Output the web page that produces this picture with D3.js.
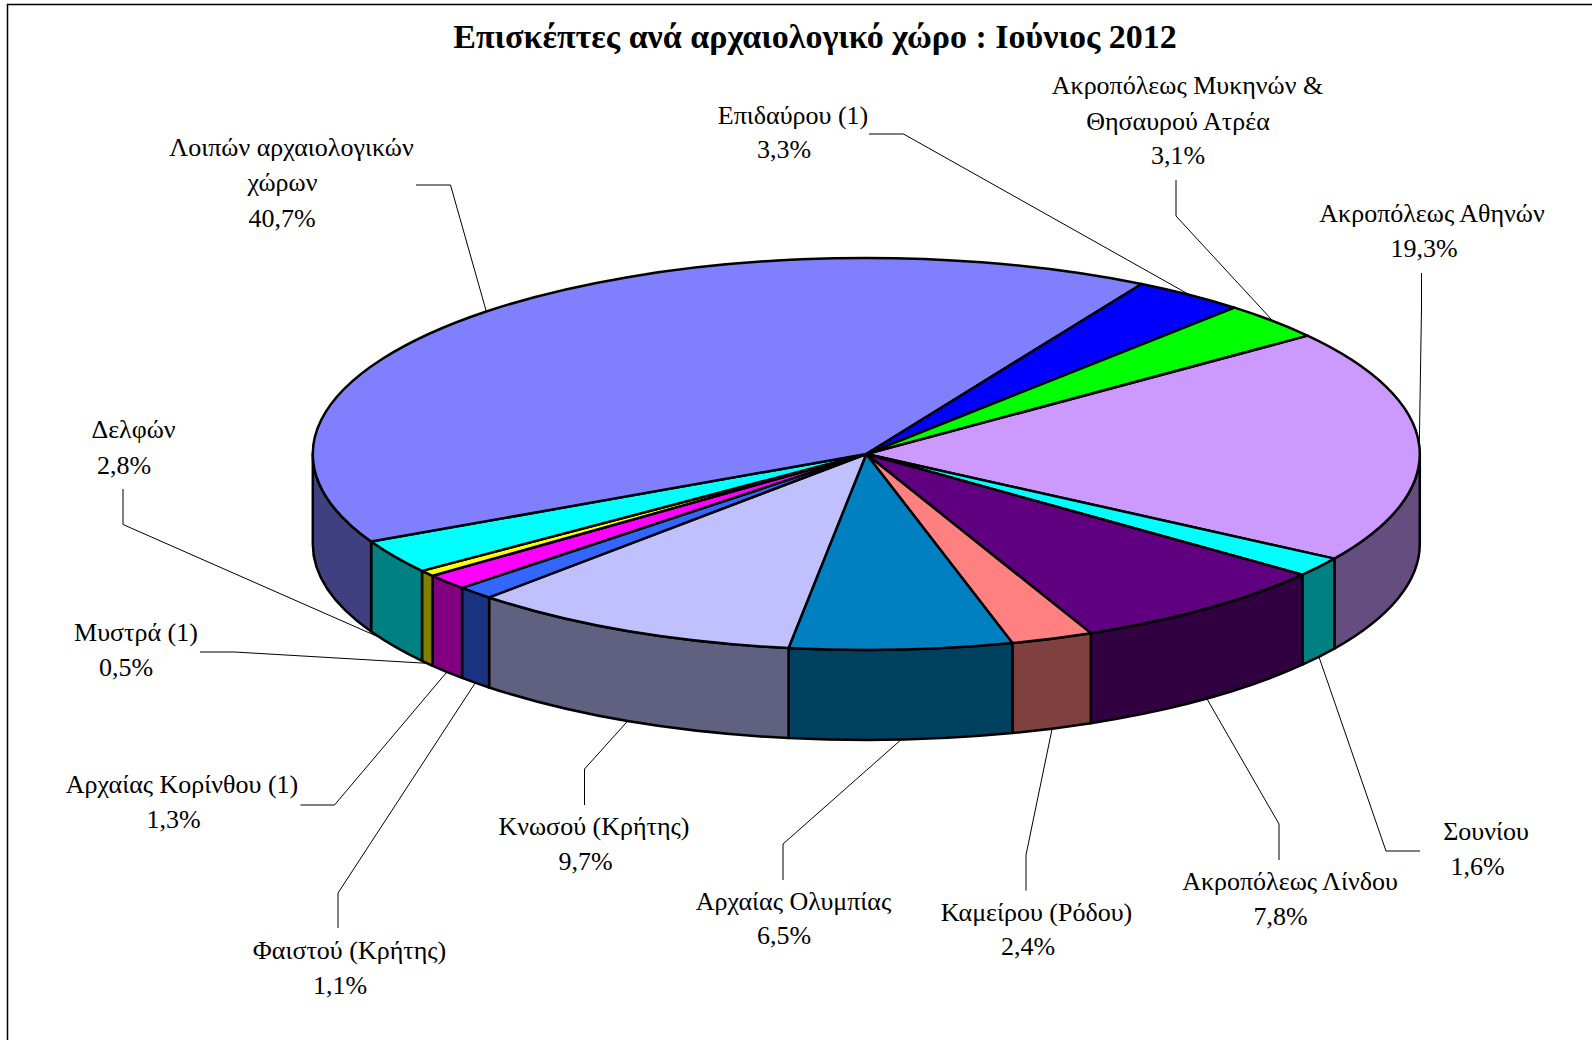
<!DOCTYPE html>
<html lang="el">
<head>
<meta charset="utf-8">
<title>Επισκέπτες ανά αρχαιολογικό χώρο</title>
<script src="https://cdn.jsdelivr.net/npm/d3@7"></script>
<style>
  html, body { margin: 0; padding: 0; background: #fff; overflow: hidden; }
  text { font-family: "Liberation Serif", "Times New Roman", serif; fill: #000; }
</style>
</head>
<body>
<div id="chart"></div>
<script>
// Data, clockwise from the start angle of the pie.
const siteNames = [
  ["Ακροπόλεως Αθηνών"],
  ["Σουνίου"],
  ["Ακροπόλεως Λίνδου"],
  ["Καμείρου (Ρόδου)"],
  ["Αρχαίας Ολυμπίας"],
  ["Κνωσού (Κρήτης)"],
  ["Φαιστού (Κρήτης)"],
  ["Αρχαίας Κορίνθου (1)"],
  ["Μυστρά (1)"],
  ["Δελφών"],
  ["Λοιπών αρχαιολογικών", "χώρων"],
  ["Επιδαύρου (1)"],
  ["Ακροπόλεως Μυκηνών &", "Θησαυρού Ατρέα"],
];
const shares = [19.3, 1.6, 7.8, 2.4, 6.5, 9.7, 1.1, 1.3, 0.5, 2.8, 40.7, 3.3, 3.1];
const sliceColors = [
  "#cc99ff", "#00ffff", "#600080", "#ff8080", "#0080c0", "#c0c0ff", "#3366ff",
  "#ff00ff", "#ffff00", "#00ffff", "#8080ff", "#0000ff", "#00ff00",
];
const titleText = "Επισκέπτες ανά αρχαιολογικό χώρο : Ιούνιος 2012";

// Label layout: centre x and baseline y per text line, the % line comes last.
const labelLines = [
  [[1432, 222], [1424, 257]],
  [[1486, 840], [1477.5, 875]],
  [[1290, 890], [1280.5, 925]],
  [[1036.5, 920.5], [1028, 955]],
  [[793.5, 909.5], [784, 944]],
  [[594, 835], [585.5, 870]],
  [[349.5, 959], [340, 994]],
  [[182, 793], [173.5, 828]],
  [[136, 640.5], [126, 675.5]],
  [[133.5, 438], [124, 473.5]],
  [[291.5, 156], [282.5, 191], [282, 227]],
  [[793, 123.5], [784, 157.5]],
  [[1187.5, 94], [1178, 129.5], [1178, 164]],
];
// Leader lines: free end and elbow; the third point is found on the pie.
const leaderElbows = [
  [[1421.5, 273], [1421.5, 308]],
  [[1420, 851], [1386, 851]],
  [[1279, 860], [1279, 824]],
  [[1026, 890.5], [1026, 855]],
  [[783, 880], [783, 844]],
  [[584.5, 805], [584.5, 769]],
  [[338, 928], [338, 893]],
  [[300.5, 805], [334.5, 805]],
  [[200, 652], [234.5, 652]],
  [[123, 489], [123, 524.5]],
  [[416, 185], [450.5, 185]],
  [[869, 134], [903.5, 134]],
  [[1176, 180], [1176, 216]],
];
// Where inside its slice each leader lands, 0.5 is the middle.
const leaderPosition = [0.5, 0.5, 0.5, 0.5, 0.5, 0.5, 0.5, 0.5, 0.5, 0.8, 0.5, 0.5, 0.5];

const width = 1592;
const height = 1040;
const cx = 866.3;
const cy = 454;
const rx = 553.5;
const ry = 196;
const depth = 90;
const startAngle = (52.85 * Math.PI) / 180;

const svg = d3
  .select("#chart")
  .append("svg")
  .attr("width", width)
  .attr("height", height)
  .style("display", "block");

// Frame, it runs off the right and bottom of the picture.
svg
  .append("rect")
  .attr("x", 7.5)
  .attr("y", 4.5)
  .attr("width", width + 40)
  .attr("height", height + 40)
  .attr("fill", "#fff")
  .attr("stroke", "#000")
  .attr("stroke-width", 1.5);

svg
  .append("text")
  .attr("x", 815)
  .attr("y", 48)
  .attr("text-anchor", "middle")
  .attr("font-size", 34)
  .attr("font-weight", "bold")
  .text(titleText);

const slices = d3
  .pie()
  .sort(null)
  .startAngle(startAngle)
  .endAngle(startAngle + 2 * Math.PI)(shares);

// Point on the rim, angle measured clockwise from the top.
const rim = (angle, drop = 0) => [
  cx + rx * Math.sin(angle),
  cy - ry * Math.cos(angle) + drop,
];

// The front wall of a slice, only the part between 90 and 270 degrees shows.
function wallPath(d) {
  const ranges = [0, 2 * Math.PI].map((turn) => [
    Math.max(d.startAngle, Math.PI / 2 + turn),
    Math.min(d.endAngle, (3 * Math.PI) / 2 + turn),
  ]);
  const range = ranges.find(([a0, a1]) => a1 > a0);
  if (!range) return null;
  const [a0, a1] = range;
  const path = d3.path();
  const [x0, y0] = rim(a0);
  const [x1, y1] = rim(a1);
  path.moveTo(x0, y0);
  const top = `A${rx},${ry} 0 0 1 ${x1},${y1}`;
  const bottom = `A${rx},${ry} 0 0 0 ${x0},${y0 + depth}`;
  return `${path}${top}L${x1},${y1 + depth}${bottom}Z`;
}

const wallColor = (color) => {
  const c = d3.rgb(color);
  return d3.rgb(c.r / 2, c.g / 2, c.b / 2).formatHex();
};

// Leaders go under the pie so they stop at its edge.
slices.forEach((d, i) => {
  const angle = d.startAngle + (d.endAngle - d.startAngle) * leaderPosition[i];
  const isFront = Math.cos(angle) < 0;
  const end = rim(angle, isFront ? depth : 0);
  svg
    .append("path")
    .attr("fill", "none")
    .attr("stroke", "#000")
    .attr("stroke-width", 1)
    .attr("d", d3.line()([...leaderElbows[i], end]));
});

svg
  .append("g")
  .selectAll("path")
  .data(slices.filter((d) => wallPath(d)))
  .join("path")
  .attr("d", wallPath)
  .attr("fill", (d) => wallColor(sliceColors[d.index]))
  .attr("stroke", "#000")
  .attr("stroke-width", 2.5)
  .attr("stroke-linejoin", "round");

const arc = d3.arc().innerRadius(0).outerRadius(rx);

svg
  .append("g")
  .attr("transform", `translate(${cx},${cy}) scale(1,${ry / rx})`)
  .selectAll("path")
  .data(slices)
  .join("path")
  .attr("d", arc)
  .attr("fill", (d) => sliceColors[d.index])
  .attr("stroke", "#000")
  .attr("stroke-width", 2.5)
  .attr("stroke-linejoin", "round")
  .attr("vector-effect", "non-scaling-stroke");

// Labels: name lines and then the percentage with a decimal comma.
const formatShare = d3.formatLocale({
  decimal: ",",
  thousands: ".",
  grouping: [3],
  currency: ["", "€"],
}).format(".1f");

siteNames.forEach((lines, i) => {
  const rows = [...lines, `${formatShare(shares[i])}%`];
  svg
    .append("g")
    .selectAll("text")
    .data(rows)
    .join("text")
    .attr("x", (_, j) => labelLines[i][j][0])
    .attr("y", (_, j) => labelLines[i][j][1])
    .attr("text-anchor", "middle")
    .attr("font-size", 26)
    .text((d) => d);
});
</script>
</body>
</html>
